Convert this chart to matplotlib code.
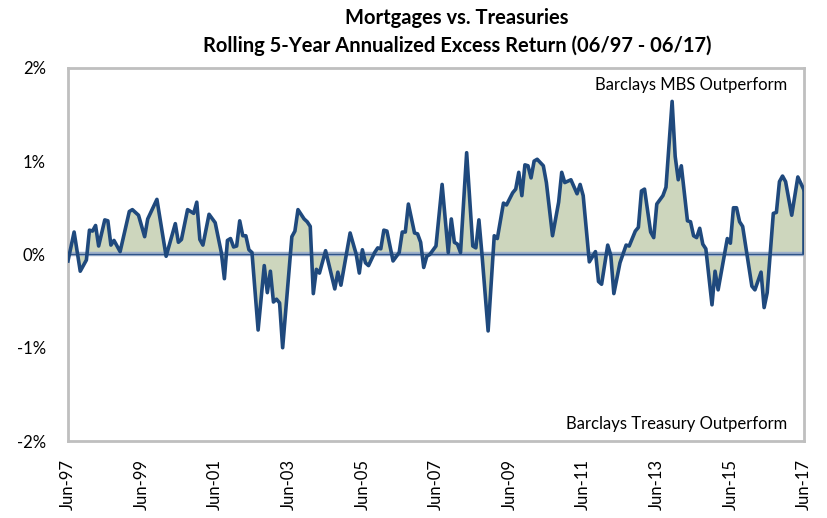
import numpy as np
import matplotlib
matplotlib.use("Agg")
from matplotlib import pyplot as plt

plt.rcParams['font.family'] = ['Lato', 'DejaVu Sans']

# months since Jun-97 and rolling 5y annualized excess return (%)
months = [0, 2, 4, 6, 7, 8, 9, 10, 12, 13, 14, 15, 17, 20, 21, 23, 25, 26, 29, 32,
          35, 36, 37, 39, 41, 42, 43, 44, 46, 48, 50, 51, 52, 53, 54, 55, 56, 57, 58, 59,
          60, 62, 64, 65, 66, 67, 68, 69, 70, 73, 74, 75, 77, 78, 79, 80, 81, 82, 84, 87,
          88, 89, 92, 94, 95, 96, 97, 98, 100, 101, 102, 103, 104, 106, 108, 109, 110, 111, 113, 114,
          115, 116, 117, 118, 120, 122, 124, 125, 126, 127, 128, 130, 132, 133, 134, 135, 137, 139, 140, 142,
          143, 145, 146, 147, 148, 149, 150, 151, 152, 153, 155, 156, 158, 160, 161, 162, 164, 166, 167, 168,
          170, 172, 173, 174, 176, 177, 178, 180, 182, 183, 185, 186, 187, 188, 190, 191, 192, 194, 195, 197,
          198, 199, 200, 202, 203, 204, 205, 206, 207, 208, 210, 211, 212, 215, 216, 217, 218, 219, 220, 223,
          224, 226, 227, 228, 230, 231, 232, 233, 234, 236, 238, 240]
excess = [-0.07, 0.24, -0.18, -0.06, 0.26, 0.25, 0.31, 0.09, 0.37, 0.36, 0.10, 0.15, 0.03, 0.46, 0.48, 0.42, 0.19, 0.38, 0.59, -0.02,
          0.33, 0.13, 0.16, 0.48, 0.44, 0.56, 0.16, 0.10, 0.43, 0.34, 0.02, -0.26, 0.15, 0.17, 0.08, 0.09, 0.36, 0.20, 0.20, 0.05,
          0.02, -0.81, -0.12, -0.41, -0.18, -0.51, -0.48, -0.52, -1.00, 0.19, 0.25, 0.48, 0.38, 0.35, 0.30, -0.42, -0.16, -0.20, 0.04, -0.37,
          -0.19, -0.33, 0.23, 0.00, -0.20, 0.05, -0.09, -0.12, 0.02, 0.07, 0.06, 0.26, 0.25, -0.07, 0.02, 0.24, 0.24, 0.54, 0.23, 0.22,
          0.13, -0.14, -0.02, 0.00, 0.09, 0.75, 0.02, 0.38, 0.13, 0.11, 0.02, 1.09, 0.09, 0.07, 0.37, 0.00, -0.82, 0.20, 0.17, 0.55,
          0.53, 0.66, 0.70, 0.88, 0.63, 0.96, 0.95, 0.82, 1.00, 1.02, 0.95, 0.77, 0.20, 0.56, 0.88, 0.77, 0.80, 0.65, 0.75, 0.63,
          -0.08, 0.03, -0.29, -0.32, 0.10, -0.01, -0.42, -0.09, 0.10, 0.09, 0.25, 0.29, 0.68, 0.70, 0.24, 0.18, 0.54, 0.63, 0.72, 1.64,
          1.05, 0.80, 0.95, 0.36, 0.35, 0.20, 0.18, 0.28, 0.11, 0.06, -0.54, -0.18, -0.38, 0.17, 0.12, 0.50, 0.50, 0.35, 0.30, -0.34,
          -0.38, -0.19, -0.57, -0.41, 0.44, 0.45, 0.78, 0.84, 0.78, 0.42, 0.83, 0.69]

tick_months = [0, 24, 48, 72, 96, 120, 144, 168, 192, 216, 240]
tick_labels = ['Jun-97', 'Jun-99', 'Jun-01', 'Jun-03', 'Jun-05', 'Jun-07',
               'Jun-09', 'Jun-11', 'Jun-13', 'Jun-15', 'Jun-17']
y_ticks = [2, 1, 0, -1, -2]

x = np.array(months)
y = np.array(excess)

fig = plt.figure(figsize=(8.28, 5.18), dpi=100)
ax = fig.add_axes([0.0821, 0.1486, 0.8889, 0.7205])

ax.fill_between(x, y, 0, color='#CDD6BD', lw=0)
ax.axhline(0, color='#9DB0CB', lw=3.2, zorder=3)
ax.axhline(0, color='#2F5489', lw=0.9, zorder=3)
ax.plot(x, y, color='#1F497D', lw=2.6, zorder=4, solid_joinstyle='round')
ax.vlines(x[-1], 0, y[-1], color='#1F497D', lw=2.6, zorder=4)

ax.set_xlim(0, 240)
ax.set_ylim(-2, 2)
ax.set_xticks(tick_months)
ax.set_xticklabels(tick_labels, rotation=90, fontsize=12)
ax.set_yticks(y_ticks)
ax.set_yticklabels(['%d%%' % v for v in y_ticks], fontsize=12)
ax.tick_params(length=0, pad=13)
ax.tick_params(axis='y', pad=16)

for s in ax.spines.values():
    s.set_color('#BFBFBF')
    s.set_linewidth(2)

ax.text(0.977, 0.955, 'Barclays MBS Outperform', transform=ax.transAxes,
        ha='right', va='center', fontsize=12)
ax.text(0.977, 0.045, 'Barclays Treasury Outperform', transform=ax.transAxes,
        ha='right', va='center', fontsize=12)

fig.text(0.552, 0.966, 'Mortgages vs. Treasuries', ha='center', va='center',
         fontsize=14.5, fontweight='bold')
fig.text(0.552, 0.911, 'Rolling 5-Year Annualized Excess Return (06/97 - 06/17)',
         ha='center', va='center', fontsize=14.5, fontweight='bold')

fig.savefig('out.png', dpi=100)
